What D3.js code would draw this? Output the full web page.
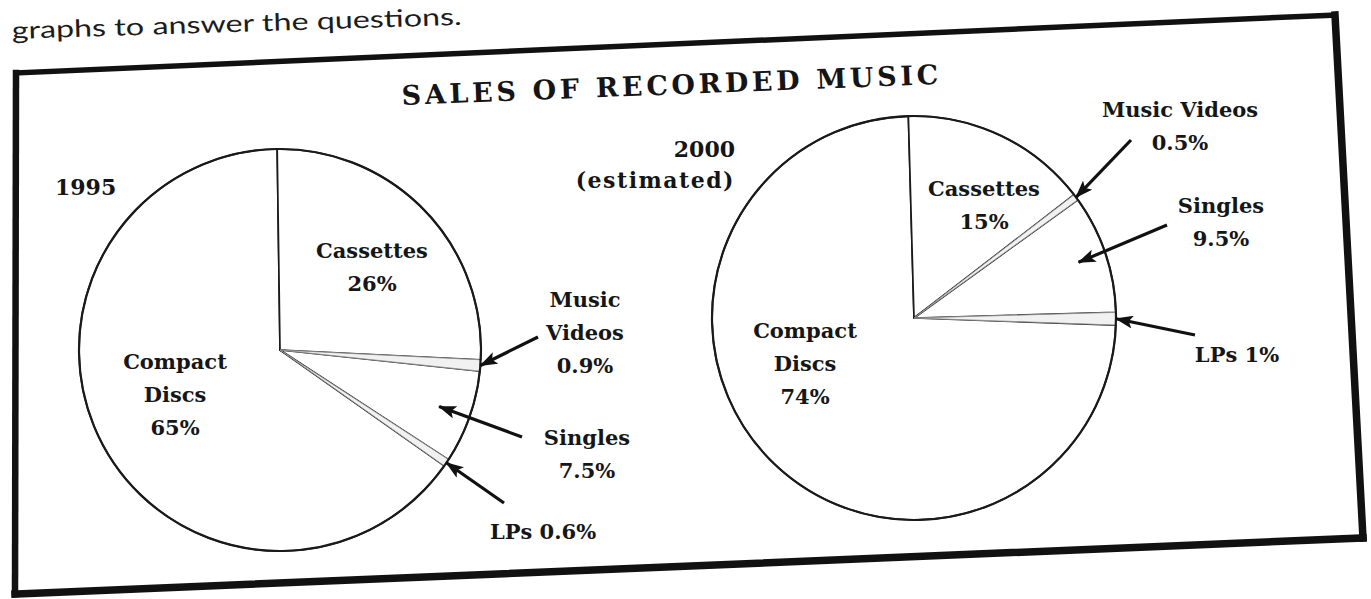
<!DOCTYPE html>
<html><head><meta charset="utf-8">
<script src="https://cdn.jsdelivr.net/npm/d3@7"></script>
<style>html,body{margin:0;padding:0;background:#fff;} svg{display:block}</style>
</head><body>
<svg id="chart" width="1371" height="599"></svg>
<script>
// ---------------- data ----------------
const categories = ["Cassettes", "Music Videos", "Singles", "LPs", "Compact Discs"];
const values1995 = [26, 0.9, 7.5, 0.6, 65];
const values2000 = [15, 0.5, 9.5, 1, 74];
const valueLabels1995 = ["26%", "0.9%", "7.5%", "0.6%", "65%"];
const valueLabels2000 = ["15%", "0.5%", "9.5%", "1%", "74%"];
const yearLabels = ["1995", "2000"];
const yearNotes = ["", "(estimated)"];
const titleText = "SALES OF RECORDED MUSIC";
const pageText = "graphs to answer the questions.";

// ---------------- layout (positions only) ----------------
const FONT = "'DejaVu Serif', 'Liberation Serif', serif";
const layout = [
  { cx: 280, cy: 350, r: 201, rot: -0.8,
    year: { x: 55, y: 195, anchor: "start" },
    labels: [
      { mode: "stack",  x: 372, y: 258 },
      { mode: "stack",  x: 585, y: 307, tail: [538, 337], k: 1.0 },
      { mode: "stack",  x: 587, y: 445, tail: [522, 437], k: 0.84 },
      { mode: "inline", x: 543, y: 539, tail: [504, 503], k: 1.0 },
      { mode: "stack",  x: 175, y: 369 }
    ] },
  { cx: 914, cy: 318, r: 202, rot: -1.6,
    year: { x: 735, y: 157, anchor: "end" },
    labels: [
      { mode: "stack",  x: 984, y: 196 },
      { mode: "two",    x: 1180, y: 117, tail: [1131, 140], k: 1.0 },
      { mode: "stack",  x: 1221, y: 213, tail: [1167, 225], k: 0.86 },
      { mode: "inline", x: 1237, y: 362, tail: [1195, 335], k: 1.0 },
      { mode: "stack",  x: 805, y: 338 }
    ] }
];
const lineGap = 33;

const svg = d3.select("#chart");

// arrow marker
svg.append("defs").append("marker")
  .attr("id", "arrowhead")
  .attr("markerUnits", "userSpaceOnUse")
  .attr("viewBox", "0 0 18 13")
  .attr("refX", 17).attr("refY", 6.5)
  .attr("markerWidth", 18).attr("markerHeight", 13)
  .attr("orient", "auto")
  .append("path").attr("d", "M0,0 L18,6.5 L0,13 L4,6.5 Z").attr("fill", "#111");

// page text (scan header, near the top edge)
svg.append("text")
  .attr("x", 12).attr("y", 39)
  .attr("transform", "rotate(-1.8,12,39)")
  .attr("font-family", "Lato, 'Open Sans', sans-serif")
  .attr("font-size", 24)
  .attr("fill", "#1c1c1c")
  .attr("textLength", 450).attr("lengthAdjust", "spacingAndGlyphs")
  .text(pageText);

// frame (slightly keystoned scan)
const frame = [
  { a: [16, 73],  b: [1335, 15], w: 5.5 },
  { a: [1335, 15], b: [1363, 538], w: 7.5 },
  { a: [1363, 538], b: [15, 594], w: 7.5 },
  { a: [15, 594], b: [16, 73], w: 6.5 }
];
svg.append("g").selectAll("line").data(frame).join("line")
  .attr("x1", d => d.a[0]).attr("y1", d => d.a[1])
  .attr("x2", d => d.b[0]).attr("y2", d => d.b[1])
  .attr("stroke", "#111").attr("stroke-width", d => d.w)
  .attr("stroke-linecap", "square");

// title
svg.append("text")
  .attr("x", 402).attr("y", 105)
  .attr("transform", "rotate(-2.25,402,105)")
  .attr("font-family", FONT).attr("font-weight", "bold")
  .attr("font-size", 27).attr("fill", "#151515")
  .attr("textLength", 537).attr("lengthAdjust", "spacing")
  .text(titleText);

const pieGen = d3.pie().sort(null).value(d => d);
const datasets = [
  { values: values1995, vlabels: valueLabels1995 },
  { values: values2000, vlabels: valueLabels2000 }
];

datasets.forEach((ds, pi) => {
  const L = layout[pi];
  const arcs = pieGen(ds.values).map((a, i) => Object.assign(a, { i }));
  const arcGen = d3.arc().innerRadius(0).outerRadius(L.r);
  const g = svg.append("g")
    .attr("transform", `translate(${L.cx},${L.cy}) rotate(${L.rot})`);

  const drawOrder = arcs.slice().sort((a, b) => b.value - a.value);
  g.selectAll("path.slice").data(drawOrder).join("path")
    .attr("class", "slice")
    .attr("d", arcGen)
    .attr("fill", d => d.value < 2 ? "#f1f1f1" : "#fff")
    .attr("stroke", d => d.value < 2 ? "#8f8f8f" : "#1a1a1a")
    .attr("stroke-width", d => d.value < 2 ? 0.9 : 1.7)
    .attr("stroke-linejoin", "round");

  g.append("circle").attr("r", L.r)
    .attr("fill", "none").attr("stroke", "#1a1a1a").attr("stroke-width", 2.2);

  // year label
  svg.append("text")
    .attr("x", L.year.x).attr("y", L.year.y)
    .attr("text-anchor", L.year.anchor)
    .attr("font-family", FONT).attr("font-weight", "bold")
    .attr("font-size", 22).attr("fill", "#151515")
    .text(yearLabels[pi]);
  if (yearNotes[pi]) {
    svg.append("text")
      .attr("x", L.year.x).attr("y", L.year.y + 31)
      .attr("text-anchor", L.year.anchor)
      .attr("font-family", FONT).attr("font-weight", "bold")
      .attr("font-size", 22).attr("fill", "#151515")
      .attr("letter-spacing", 1.5)
      .text(yearNotes[pi]);
  }

  // slice labels
  arcs.forEach((a, i) => {
    const lab = L.labels[i];
    const name = categories[i], val = ds.vlabels[i];
    let lines;
    if (lab.mode === "inline") lines = [name + " " + val];
    else if (lab.mode === "two") lines = [name, val];
    else lines = name.split(" ").concat([val]);
    const t = svg.append("text")
      .attr("text-anchor", "middle")
      .attr("font-family", FONT).attr("font-weight", "bold")
      .attr("font-size", 21).attr("fill", "#161616");
    lines.forEach((ln, j) => {
      t.append("tspan").attr("x", lab.x).attr("y", lab.y + j * lineGap).text(ln);
    });

    if (lab.tail) {
      const ang = (a.startAngle + a.endAngle) / 2 + L.rot * Math.PI / 180;
      const rr = L.r * lab.k;
      const tip = [L.cx + rr * Math.sin(ang), L.cy - rr * Math.cos(ang)];
      svg.append("line")
        .attr("x1", lab.tail[0]).attr("y1", lab.tail[1])
        .attr("x2", tip[0]).attr("y2", tip[1])
        .attr("stroke", "#111").attr("stroke-width", 3.2)
        .attr("marker-end", "url(#arrowhead)");
    }
  });
});
</script>
</body></html>
